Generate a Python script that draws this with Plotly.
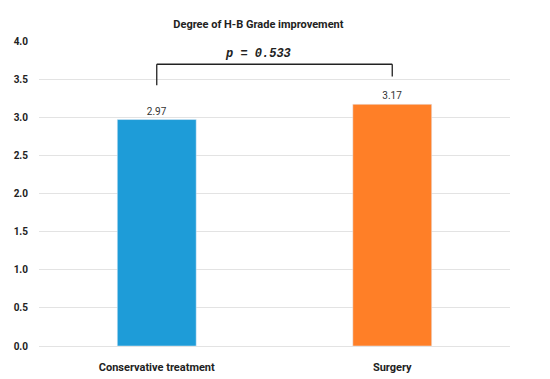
import plotly.graph_objects as go

categories = ["Conservative treatment", "Surgery"]
values = [2.97, 3.17]
value_labels = ["2.97", "3.17"]
colors = ["#1E9CD8", "#FF7F27"]
p_text = "p = 0.533"
y_ticks = [0.0, 0.5, 1.0, 1.5, 2.0, 2.5, 3.0, 3.5, 4.0]
y_tick_text = ["<b>%.1f</b>" % v for v in y_ticks]
x_tick_text = ["<b>%s</b>" % c for c in categories]

FONT = "Roboto, Open Sans, sans-serif"

# page body has an 8px default margin, so the figure is sized/offset to compensate
W, H = 542, 371

fig = go.Figure()
fig.add_trace(go.Bar(
    x=categories, y=values, marker_color=colors, width=0.335,
    text=value_labels, textposition="outside",
    textfont=dict(family=FONT, size=10, color="#333333"),
    cliponaxis=False,
))

# significance bracket
y_top = 3.695
fig.add_shape(type="line", xref="x", yref="y", x0=0, x1=0, y0=3.42, y1=y_top,
              line=dict(color="#222222", width=1.3))
fig.add_shape(type="line", xref="x", yref="y", x0=0, x1=1, y0=y_top, y1=y_top,
              line=dict(color="#222222", width=1.3))
fig.add_shape(type="line", xref="x", yref="y", x0=1, x1=1, y0=3.535, y1=y_top,
              line=dict(color="#222222", width=1.3))
fig.add_annotation(x=0.43, y=y_top, xref="x", yref="y", text="<b><i>" + p_text + "</i></b>",
                   showarrow=False, yanchor="bottom", yshift=1,
                   font=dict(family="Liberation Mono, DejaVu Sans Mono, monospace", size=12, color="#222222"))

fig.update_layout(
    width=W, height=H,
    margin=dict(l=31, r=40, t=33, b=33, autoexpand=False),
    paper_bgcolor="white", plot_bgcolor="white",
    showlegend=False,
    title=dict(text="<b>Degree of H-B Grade improvement</b>", x=0.462, xanchor="center",
               y=1 - 16 / H, yanchor="middle",
               font=dict(family=FONT, size=11, color="#222222")),
    xaxis=dict(showline=False, showgrid=False, ticks="", automargin=False,
               tickvals=categories, ticktext=x_tick_text, ticklabelstandoff=13,
               tickfont=dict(family=FONT, size=11, color="#222222")),
    yaxis=dict(range=[0, 4], tickvals=y_ticks, ticktext=y_tick_text, automargin=False,
               showgrid=True, gridcolor="#E3E3E3", gridwidth=1,
               zeroline=True, zerolinecolor="#E3E3E3", zerolinewidth=1,
               showline=False, ticks="", ticklabelstandoff=10,
               tickfont=dict(family=FONT, size=10, color="#222222")),
)

fig.write_html("out.html")
